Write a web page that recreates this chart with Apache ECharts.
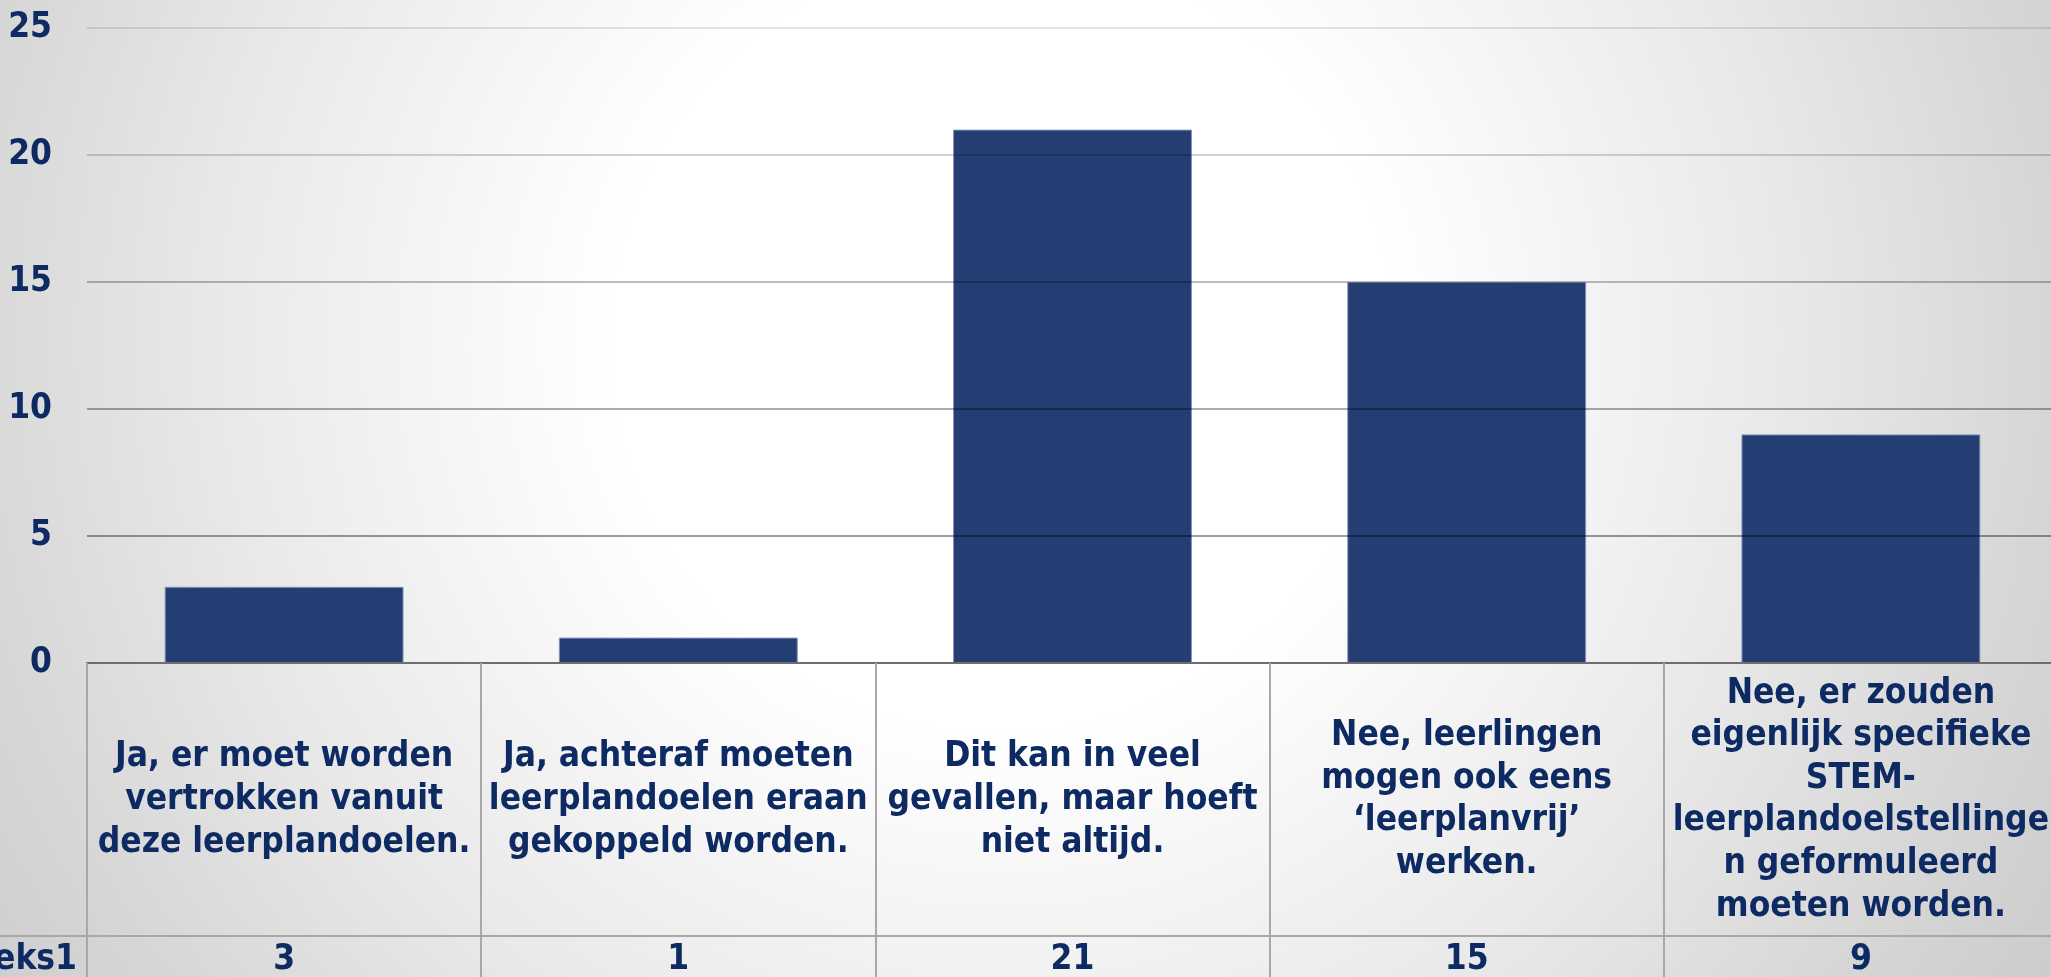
<!DOCTYPE html>
<html>
<head>
<meta charset="utf-8">
<style>
  html, body { margin: 0; padding: 0; width: 100%; height: 100%; overflow: hidden; }
  #chart { width: 2051px; height: 977px; }
</style>
<script src="https://cdn.jsdelivr.net/npm/echarts@6/dist/echarts.min.js"></script>
</head>
<body>
<div id="chart"></div>
<script>
// Answer options, one entry per line of the wrapped cell text
const categories = [
  ['Ja, er moet worden', 'vertrokken vanuit', 'deze leerplandoelen.'],
  ['Ja, achteraf moeten', 'leerplandoelen eraan', 'gekoppeld worden.'],
  ['Dit kan in veel', 'gevallen, maar hoeft', 'niet altijd.'],
  ['Nee, leerlingen', 'mogen ook eens', '\u2018leerplanvrij\u2019', 'werken.'],
  ['Nee, er zouden', 'eigenlijk specifieke', 'STEM-', 'leerplandoelstellinge', 'n geformuleerd', 'moeten worden.']
];
// Number of answers per option
const values = [3, 1, 21, 15, 9];
const seriesName = 'Reeks1';
const yTicks = [0, 5, 10, 15, 20, 25];

const navy = '#0d2a63';
const font = '"DejaVu Sans Condensed", "DejaVu Sans", sans-serif';
const tableLine = '#a8a8a8';

const labels = categories.map(lines => lines.join('\n'));

const chart = echarts.init(document.getElementById('chart'), null, { renderer: 'canvas' });

chart.setOption({
  animation: false,
  backgroundColor: new echarts.graphic.RadialGradient(1000, 340, 1300, [
    { offset: 0, color: '#ffffff' },
    { offset: 0.3, color: '#ffffff' },
    { offset: 0.6, color: '#e9e9e9' },
    { offset: 0.8, color: '#d7d7d7' },
    { offset: 1, color: '#c8c8c8' }
  ], true),
  grid: { left: 87, right: -7, top: 28, bottom: 314, containLabel: false, outerBoundsMode: 'none' },
  yAxis: {
    type: 'value',
    min: yTicks[0],
    max: yTicks[yTicks.length - 1],
    interval: yTicks[1] - yTicks[0],
    z: 5,
    axisLine: { show: false },
    axisTick: { show: false },
    axisLabel: {
      color: navy, fontFamily: font, fontWeight: 'bold', fontSize: 35, margin: 35
    },
    splitLine: {
      show: true,
      lineStyle: {
        width: 2,
        color: ['rgba(0,0,0,0)', 'rgba(0,0,0,0.38)', 'rgba(0,0,0,0.33)',
                'rgba(0,0,0,0.26)', 'rgba(0,0,0,0.17)', 'rgba(0,0,0,0.1)']
      }
    }
  },
  xAxis: [
    {
      type: 'category',
      data: labels,
      position: 'bottom',
      z: 6,
      axisLine: { show: true, lineStyle: { color: '#6e6e6e', width: 2 } },
      axisTick: {
        show: true, alignWithLabel: false, length: 320,
        lineStyle: { color: tableLine, width: 2 }
      },
      axisLabel: {
        interval: 0, margin: 137, color: navy, fontFamily: font, fontWeight: 'bold',
        fontSize: 35, lineHeight: 42.6, align: 'center', verticalAlign: 'middle'
      }
    },
    {
      type: 'category',
      data: labels,
      position: 'bottom',
      offset: 273,
      z: 6,
      axisLine: { show: true, lineStyle: { color: tableLine, width: 2 } },
      axisTick: { show: false },
      axisLabel: {
        interval: 0, margin: 24, color: navy, fontFamily: font, fontWeight: 'bold',
        fontSize: 35, align: 'center', verticalAlign: 'middle',
        formatter: (v, i) => String(values[i])
      }
    }
  ],
  series: [{
    name: seriesName,
    type: 'bar',
    xAxisIndex: 0,
    data: values,
    barWidth: '60.6%',
    itemStyle: { color: '#243e74', borderColor: '#8093ba', borderWidth: 1 }
  }],
  graphic: [
    {
      type: 'line',
      shape: { x1: 0, y1: 936, x2: 87, y2: 936 },
      style: { stroke: tableLine, lineWidth: 2 },
      z: 10
    },
    {
      type: 'text',
      x: 77, y: 960,
      style: {
        text: seriesName, fill: navy, font: 'bold 35px ' + font,
        align: 'right', verticalAlign: 'middle'
      },
      z: 10
    }
  ]
});
</script>
</body>
</html>
